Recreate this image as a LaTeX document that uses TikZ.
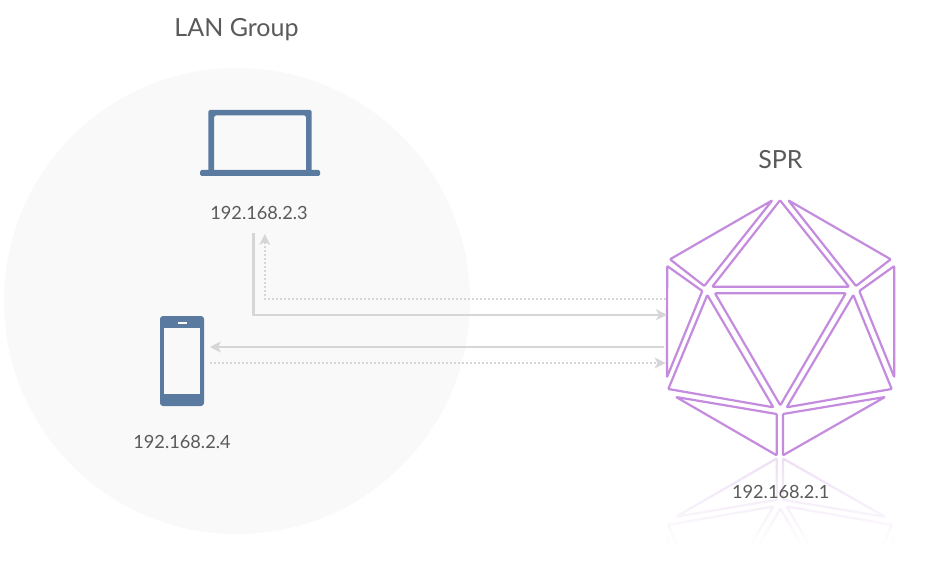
\documentclass[tikz,border=0pt]{standalone}
\usepackage{fontspec}
\setmainfont{Lato}
\usetikzlibrary{arrows.meta,fadings}
\definecolor{lanbg}{HTML}{F9F9F9}
\definecolor{devblue}{HTML}{5A7AA0}
\definecolor{sprpurple}{HTML}{C48BDE}
\definecolor{linkgrey}{HTML}{D6D6D6}
\definecolor{labelgrey}{HTML}{5A5A5A}
\tikzfading[name=reflectfade,top color=transparent!28,bottom color=transparent!0]
\tikzset{
  facet/.style={draw=sprpurple,line width=2.2pt,line join=round,rounded corners=0.8pt},
  device/.style={fill=devblue,draw=none},
  iplabel/.style={text=labelgrey,font=\fontsize{18.2}{20}\selectfont,inner sep=0pt},
  titlelabel/.style={text=labelgrey,font=\fontsize{25}{27}\selectfont,inner sep=0pt},
  link/.style={draw=linkgrey,line width=2.3pt},
  dotlink/.style={draw=linkgrey,line width=2.2pt,dash pattern=on 2pt off 2pt},
  tip/.style={-{Stealth[length=11pt,width=11pt,inset=3pt]}}
}
\newcommand{\icosa}{%
  \draw[facet] (772.3,200.3) -- (670,259.3) -- (704.3,286) -- cycle;
  \draw[facet] (780,200.3) -- (712.3,286.7) -- (849,286.7) -- cycle;
  \draw[facet] (788.3,200.3) -- (890.7,259.3) -- (856,286) -- cycle;
  \draw[facet] (667.2,266) -- (702.3,291) -- (666.9,377.3) -- cycle;
  \draw[facet] (707.3,295) -- (668.3,389) -- (773.3,407.3) -- cycle;
  \draw[facet] (715,293.3) -- (845.7,293.3) -- (780.3,405.3) -- cycle;
  \draw[facet] (853.3,295) -- (786.7,407.3) -- (891.7,389) -- cycle;
  \draw[facet] (894.3,266) -- (859.3,291) -- (894.3,377.3) -- cycle;
  \draw[facet] (676,397) -- (776.7,414) -- (776.7,455.3) -- cycle;
  \draw[facet] (885,397) -- (783,414) -- (783,455.3) -- cycle;
}
\begin{document}
\begin{tikzpicture}[x=1pt,y=-1pt]
\useasboundingbox (0,0) rectangle (928,564);
\fill[white] (0,0) rectangle (928,564);
% LAN circle
\node[circle,fill=lanbg,draw=none,minimum size=466pt,inner sep=0pt] (lan) at (237,301) {};
\node[titlelabel] (lantitle) at (236.5,29.5) {LAN Group};
% laptop
\fill[device,rounded corners=1.5pt,even odd rule]
  (208.3,110) rectangle (311.7,172) (214,115.5) rectangle (306,172);
\fill[device,rounded corners=1.5pt] (200,170) rectangle (320,176);
\coordinate (laptop) at (260,143);
\node[iplabel] (laptopip) at (259,212.5) {192.168.2.3};
% phone
\fill[device,rounded corners=3pt] (160,316) rectangle (204,406);
\fill[lanbg] (164,328) rectangle (200,394);
\fill[lanbg] (178,321.5) rectangle (187,323.5);
\coordinate (phone) at (182,361);
\node[iplabel] (phoneip) at (182,441.5) {192.168.2.4};
% SPR
\node[titlelabel] (sprtitle) at (780.5,160) {SPR};
\icosa
\begin{scope}
  \clip (650,457.6) rectangle (910,548);
  \begin{scope}[shift={(0,913.8)},yscale=-1]
    \icosa
  \end{scope}
\end{scope}
\fill[white,path fading=reflectfade] (650,457.6) rectangle (910,546);
\fill[white] (650,546) rectangle (910,564);
\node[iplabel] (sprip) at (780.7,491.5) {192.168.2.1};
% link anchors
\coordinate (a1) at (253.5,233);
\coordinate (a2) at (253.5,314.8);
\coordinate (a3) at (667,314.8);
\coordinate (b1) at (666,299);
\coordinate (b2) at (264.8,299);
\coordinate (b3) at (264.8,242);
\coordinate (c1) at (664,347);
\coordinate (c2) at (210,347);
\coordinate (d1) at (210,363);
\coordinate (d2) at (657.5,363);
\draw[link,tip] (a1) -- (a2) -- (a3);
\draw[dotlink] (b1) -- (b2) -- (b3);
\fill[linkgrey] (264.8,234) -- (270.3,245) -- (264.8,242) -- (259.3,245) -- cycle;
\draw[link,tip] (c1) -- (c2);
\draw[dotlink] (d1) -- (d2);
\fill[linkgrey] (665.5,363) -- (654.5,357.5) -- (657.5,363) -- (654.5,368.5) -- cycle;
\end{tikzpicture}
\end{document}
